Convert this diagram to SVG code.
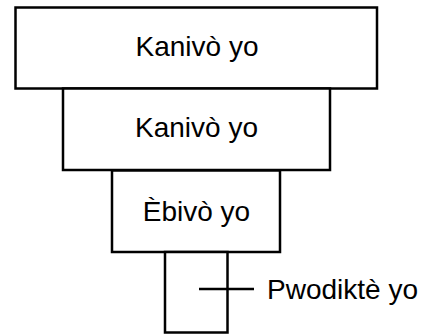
<svg xmlns="http://www.w3.org/2000/svg" width="426" height="335" viewBox="0 0 426 335">
<style>
.box{fill:#fff;stroke:#000;stroke-width:2.5}
.lbl{font-family:"Liberation Sans",Arial,sans-serif;font-size:28px;fill:#000;text-anchor:middle}
.conn{stroke:#000;stroke-width:2.5;fill:none}
</style>
<rect width="426" height="335" fill="#fff"/>
<g id="n1"><rect class="box" x="15.5" y="7.5" width="361.5" height="81"/><text class="lbl" x="197" y="56">Kanivò yo</text></g>
<g id="n2"><rect class="box" x="63" y="88.5" width="267" height="81.5"/><text class="lbl" x="196.5" y="137">Kanivò yo</text></g>
<g id="n3"><rect class="box" x="112" y="170.5" width="168" height="81.5"/><text class="lbl" x="196.5" y="221">Èbivò yo</text></g>
<g id="n4"><rect class="box" x="165" y="252" width="62.5" height="80.5"/></g>
<g id="connectors"><line class="conn" x1="199" y1="289" x2="254" y2="289"/></g>
<g id="n5"><text class="lbl" x="267" y="299" style="text-anchor:start">Pwodiktè yo</text></g>
</svg>
